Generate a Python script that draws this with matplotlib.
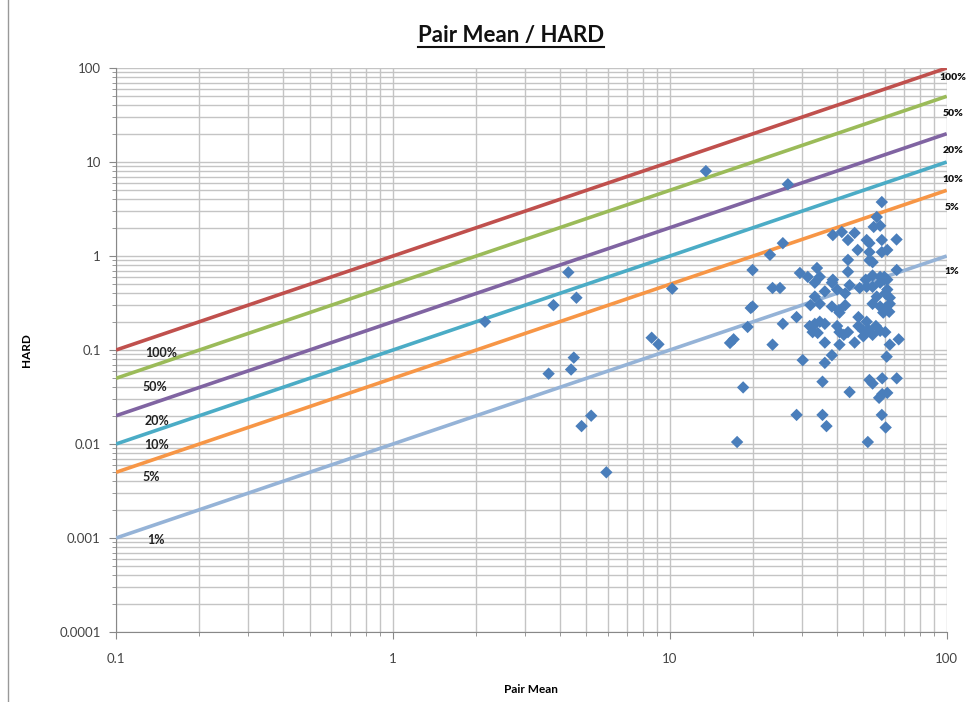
import matplotlib
matplotlib.use("Agg")
import matplotlib.pyplot as plt
import numpy as np
from matplotlib.lines import Line2D
from matplotlib.ticker import LogLocator, NullFormatter, FixedLocator, FixedFormatter

plt.rcParams["font.family"] = ["Lato", "DejaVu Sans"]

# ratio lines HARD = ratio * Pair Mean
ratio_labels = ["100%", "50%", "20%", "10%", "5%", "1%"]
ratios = [1.0, 0.5, 0.2, 0.1, 0.05, 0.01]
ratio_colors = ["#C0504D", "#9BBB59", "#8064A2", "#4BACC6", "#F79646", "#95B3D7"]

# measured points (Pair Mean, HARD)
pair_mean = [
    2.15, 4.3, 3.8, 4.6, 10.2, 8.6, 9.1, 4.5, 4.4, 3.65, 5.2, 4.8, 5.9, 13.5, 26.7,
    58.3, 55.9, 54.5, 57.5, 38.8, 41.8, 44, 46.5, 51.4, 52.6, 58.3, 65.9, 25.6, 23.0,
    47.7, 52.6, 58.3, 61, 44, 52.6, 54, 19.9, 29.5, 34.0, 31.5, 34.8, 44, 66,
    51, 54, 57.5, 59.5, 61, 38.8, 38.5, 33.4, 23.5, 25, 44.6,
    48.5, 51.4, 54, 57.5, 59.5, 61, 40.2, 43, 36.3, 33.4, 55.9, 60, 62.3,
    32.2, 34.8, 38.5, 40.8, 43, 19.9, 19.6,
    54, 57.5, 60, 62.3, 41, 59, 62, 28.7, 25.6, 19.1, 48, 51.4,
    32, 33.4, 34.8, 36.3, 32.8, 34.2,
    40.2, 41, 44, 42.5, 48, 50, 52, 55.5, 57.5, 60,
    16.5, 17, 23.5, 36.3, 41, 46.5, 50, 54, 62.3, 67.1,
    38.5, 30.2, 36.3, 60.7, 18.4, 35.6, 52.6, 54, 58.5, 66, 44.6, 57, 58.5, 61,
    28.7, 35.6, 36.8, 58.3, 60.2, 17.5, 51.9,
]
hard = [
    0.2, 0.67, 0.3, 0.36, 0.45, 0.135, 0.115, 0.083, 0.062, 0.056, 0.02, 0.0155, 0.005, 8.0, 5.8,
    3.75, 2.6, 2.04, 2.1, 1.67, 1.8, 1.48, 1.76, 1.48, 1.37, 1.48, 1.5, 1.37, 1.03,
    1.16, 1.1, 1.1, 1.16, 0.91, 0.9, 0.86, 0.71, 0.66, 0.745, 0.6, 0.6, 0.68, 0.71,
    0.56, 0.62, 0.6, 0.6, 0.56, 0.56, 0.52, 0.52, 0.457, 0.457, 0.49,
    0.457, 0.47, 0.47, 0.52, 0.56, 0.44, 0.44, 0.40, 0.42, 0.37, 0.37, 0.4, 0.36,
    0.30, 0.31, 0.29, 0.266, 0.30, 0.29, 0.28,
    0.31, 0.29, 0.28, 0.31, 0.25, 0.25, 0.255, 0.224, 0.19, 0.176, 0.224, 0.2,
    0.18, 0.19, 0.2, 0.19, 0.155, 0.152,
    0.18, 0.155, 0.155, 0.145, 0.18, 0.16, 0.165, 0.18, 0.16, 0.155,
    0.119, 0.13, 0.114, 0.12, 0.114, 0.12, 0.14, 0.145, 0.114, 0.13,
    0.088, 0.078, 0.073, 0.085, 0.040, 0.046, 0.048, 0.044, 0.05, 0.05, 0.0357, 0.031, 0.034, 0.035,
    0.0204, 0.0204, 0.0155, 0.0204, 0.015, 0.0105, 0.0105,
]

x_ticks = [0.1, 1, 10, 100]
x_tick_labels = ["0.1", "1", "10", "100"]
y_ticks = [0.0001, 0.001, 0.01, 0.1, 1, 10, 100]
y_tick_labels = ["0.0001", "0.001", "0.01", "0.1", "1", "10", "100"]

fig = plt.figure(figsize=(9.67, 7.02), dpi=100)
ax = fig.add_axes([0.12, 0.0997, 0.859, 0.8034])
ax.set_xscale("log")
ax.set_yscale("log")
ax.set_xlim(0.1, 100)
ax.set_ylim(0.0001, 100)

ax.grid(True, which="both", color="#C4C4C4", linewidth=1.0)
ax.set_axisbelow(True)

xs = np.array([0.1, 100])
for ratio, color in zip(ratios, ratio_colors):
    ax.plot(xs, xs * ratio, color=color, linewidth=2.6, solid_capstyle="butt", zorder=3)

ax.scatter(pair_mean, hard, marker="D", s=40, color="#4A7EBB", edgecolors="none", zorder=4)

# percentage labels on both ends of the lines
left_pos = [(0.127, 0.093), (0.125, 0.040), (0.127, 0.0175), (0.126, 0.0098), (0.125, 0.0045), (0.13, 0.00096)]
right_pos = [(0.972, 0.890), (0.975, 0.839), (0.975, 0.785), (0.975, 0.744), (0.977, 0.704), (0.977, 0.613)]
for lab, (lx, ly), (rx, ry) in zip(ratio_labels, left_pos, right_pos):
    ax.text(lx, ly, lab, fontsize=9, fontweight="bold", color="#222222", va="center", ha="left", zorder=5)
    fig.text(rx, ry, lab, fontsize=7.5, fontweight="heavy", color="#111111", va="center", ha="left")

ax.xaxis.set_major_locator(FixedLocator(x_ticks))
ax.xaxis.set_major_formatter(FixedFormatter(x_tick_labels))
ax.yaxis.set_major_locator(FixedLocator(y_ticks))
ax.yaxis.set_major_formatter(FixedFormatter(y_tick_labels))
ax.xaxis.set_minor_locator(LogLocator(base=10, subs=np.arange(2, 10)))
ax.yaxis.set_minor_locator(LogLocator(base=10, subs=np.arange(2, 10)))
ax.xaxis.set_minor_formatter(NullFormatter())
ax.yaxis.set_minor_formatter(NullFormatter())

ax.tick_params(axis="both", which="major", labelsize=9.5, labelcolor="#444444",
               color="#888888", length=5, direction="out")
ax.tick_params(axis="both", which="minor", color="#888888", length=3, direction="out")
ax.tick_params(axis="x", pad=10)
ax.tick_params(axis="y", pad=6)

for side in ["top", "right"]:
    ax.spines[side].set_visible(False)
for side in ["left", "bottom"]:
    ax.spines[side].set_color("#888888")

ax.set_xlabel("Pair Mean", fontsize=8.5, fontweight="bold", labelpad=14)
ax.set_ylabel("HARD", fontsize=8.5, fontweight="bold", labelpad=20)

title = fig.text(0.528, 0.95, "Pair Mean / HARD", fontsize=16, fontweight="bold",
                 ha="center", va="center", color="#111111")
fig.canvas.draw()
bb = title.get_window_extent(fig.canvas.get_renderer()).transformed(fig.transFigure.inverted())
fig.add_artist(Line2D([bb.x0, bb.x1], [bb.y0 - 0.002, bb.y0 - 0.002], color="#111111", linewidth=1.5))

# outer chart frame on the left
fig.add_artist(Line2D([0.008, 0.008], [0.0, 1.0], color="#999999", linewidth=1.0))

fig.savefig("out.png", dpi=100)
